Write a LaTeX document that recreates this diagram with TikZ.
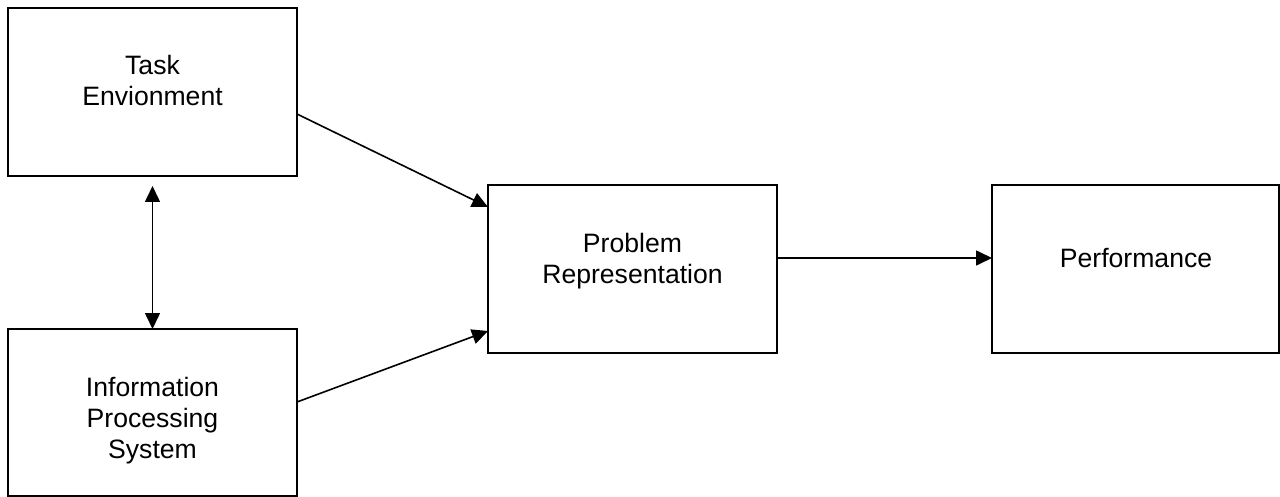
\documentclass[tikz,border=0pt]{standalone}
\usepackage{fontspec}
\setmainfont{Liberation Sans}
\usetikzlibrary{arrows.meta}
\begin{document}
\begin{tikzpicture}[x=1pt,y=-1pt,
  box/.style={draw,line width=1.6pt,inner sep=0pt,outer sep=0pt,anchor=north west,minimum height=168pt},
  lbl/.style={anchor=north,inner sep=0pt,align=center,font=\fontsize{26.6}{31}\selectfont},
  tip/.style={Triangle[length=16pt,width=15pt]},
  conn/.style={line width=1.6pt,-{Triangle[length=16pt,width=15pt]}}]
\useasboundingbox (0,0) rectangle (1280,497);
\node[box,minimum width=289pt] (task) at (8,8) {};
\node[box,minimum width=289pt,minimum height=167pt] (ips) at (8,329) {};
\node[box,minimum width=289pt] (prob) at (488,185) {};
\node[box,minimum width=287pt] (perf) at (992,185) {};
\node[lbl] (taskt) at (152.5,55) {Task\\Envionment};
\node[lbl] (ipst) at (152.5,377) {Information\\Processing\\System};
\node[lbl] (probt) at (632.5,233) {Problem\\Representation};
\node[lbl] (perft) at (1136,248) {Performance};
\draw[conn] ([yshift=-106pt]task.north east) -- ([yshift=-22pt]prob.north west);
\draw[conn] ([yshift=-73pt]ips.north east) -- ([yshift=22pt]prob.south west);
\draw[conn] ([yshift=11pt]prob.east) -- ([yshift=11pt]perf.west);
\draw[conn,{Triangle[length=16pt,width=15pt]}-{Triangle[length=16pt,width=15pt]}] ([yshift=-10pt]task.south) -- (ips.north);
\end{tikzpicture}
\end{document}
